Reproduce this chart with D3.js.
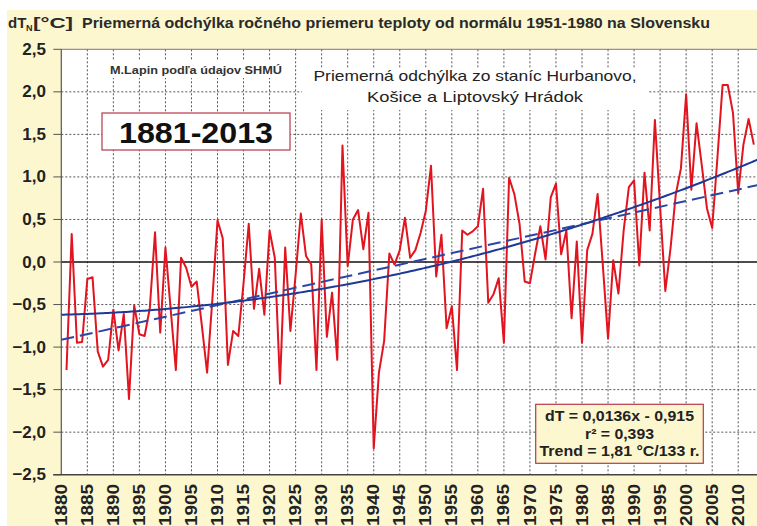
<!DOCTYPE html>
<html><head><meta charset="utf-8">
<script src="https://cdn.jsdelivr.net/npm/d3@7"></script>
<style>
body{margin:0;background:#fff}
svg text{font-family:"Liberation Sans",Arial,Helvetica,sans-serif}
</style>
</head><body>
<svg id="c" width="757" height="526"></svg>
<script>
// ---- data ----
const years = d3.range(1881, 2014);
const values = [
 -1.27, 0.33,-0.95,-0.94,-0.20,-0.18,-1.05,-1.23,-1.15,-0.56, // 1881-1890
 -1.04,-0.61,-1.61,-0.51,-0.85,-0.87,-0.54, 0.35,-0.83, 0.17, // 1891-1900
 -0.55,-1.27, 0.05,-0.07,-0.29,-0.23,-0.75,-1.30,-0.45, 0.49, // 1901-1910
  0.28,-1.21,-0.81,-0.87,-0.25, 0.45,-0.55,-0.08,-0.62, 0.37, // 1911-1920
  0.05,-1.43, 0.17,-0.81,-0.15, 0.57, 0.07,-0.03,-1.27, 0.50, // 1921-1930
 -0.88,-0.36,-1.15, 1.37,-0.05, 0.50, 0.61, 0.15, 0.58,-2.19, // 1931-1940
 -1.30,-0.93, 0.10,-0.03, 0.14, 0.52, 0.05, 0.14, 0.34, 0.60, // 1941-1950
  1.13,-0.17, 0.32,-0.78,-0.52,-1.27, 0.37, 0.32, 0.36, 0.42, // 1951-1960
  0.86,-0.48,-0.38,-0.19,-0.95, 0.99, 0.80, 0.45,-0.23,-0.25, // 1961-1970
  0.10, 0.42, 0.03, 0.76, 0.92, 0.09, 0.37,-0.66, 0.24,-0.95, // 1971-1980
  0.14, 0.33, 0.80,-0.04,-0.90, 0.02,-0.37, 0.37, 0.88, 0.96, // 1981-1990
 -0.04, 1.05, 0.37, 1.67, 0.65,-0.34, 0.16, 0.79, 1.10, 1.97, // 1991-2000
  0.85, 1.63, 1.14, 0.63, 0.40, 1.22, 2.08, 2.08, 1.75, 0.81, // 2001-2010
  1.38, 1.68, 1.38                                           // 2011-2013
];
const yTicks = [2.5, 2.0, 1.5, 1.0, 0.5, 0.0, -0.5, -1.0, -1.5, -2.0, -2.5];
const xTickYears = d3.range(1880, 2011, 5);
// linear trend as printed on the chart: dT = 0.0136 x - 0.915 (x = 1 for 1881)
const linSlope = 0.0136, linIntercept = -0.915;
// polynomial (2nd order) trend, t = year - 1880
const polyCoef = [-0.62, 0.00157, 0.0000902];
const trendYears = d3.range(1880, 2014.01, 0.5);

const titleMain = "Priemerná odchýlka ročného priemeru teploty od normálu 1951-1980 na Slovensku";
const authorText = "M.Lapin podľa údajov SHMÚ";
const periodText = "1881-2013";
const noteLines = ["Priemerná odchýlka zo staníc Hurbanovo,", "Košice a Liptovský Hrádok"];
const eqLines = ["dT = 0,0136x - 0,915", "r² = 0,393", "Trend = 1,81 °C/133 r."];

// ---- layout ----
const svg = d3.select("#c");
const L = 61.3, R = 61.3 + 134 * 5.207, T = 49.3, B = 474.7;
const x = d3.scaleLinear().domain([1880, 2014]).range([L, R]);
const y = d3.scaleLinear().domain([-2.5, 2.5]).range([B, T]);
const fmt = v => d3.format(".1f")(v).replace(".", ",");

svg.append("rect").attr("x", 7).attr("y", 10).attr("width", 750).attr("height", 516).attr("fill", "#fcf7cf");
svg.append("rect").attr("x", L).attr("y", T).attr("width", 757 - L).attr("height", B - T).attr("fill", "#fff");

// grid
const grid = svg.append("g");
grid.selectAll(".hg").data(yTicks.filter(v => v !== 0 && v !== -2.5 && v !== 2.5)).join("line")
  .attr("x1", L).attr("x2", 757).attr("y1", d => y(d)).attr("y2", d => y(d))
  .attr("stroke", "#555").attr("stroke-width", 1).attr("stroke-dasharray", "2,2");
grid.selectAll(".vg").data(xTickYears.filter(v => v > 1880)).join("line")
  .attr("x1", d => x(d)).attr("x2", d => x(d)).attr("y1", T).attr("y2", B)
  .attr("stroke", "#555").attr("stroke-width", 1).attr("stroke-dasharray", "2,2");
// top line
svg.append("line").attr("x1", L).attr("x2", 757).attr("y1", T).attr("y2", T).attr("stroke", "#777").attr("stroke-width", 1);
// y ticks
svg.selectAll(".yt").data(yTicks).join("line")
  .attr("x1", L - 8).attr("x2", L).attr("y1", d => y(d)).attr("y2", d => y(d))
  .attr("stroke", "#555").attr("stroke-width", 1);
// zero line
svg.append("line").attr("x1", L).attr("x2", 757).attr("y1", y(0)).attr("y2", y(0)).attr("stroke", "#111").attr("stroke-width", 1.6);
// axes
svg.append("line").attr("x1", L).attr("x2", L).attr("y1", T).attr("y2", B).attr("stroke", "#555").attr("stroke-width", 1.2);
svg.append("line").attr("x1", L - 8).attr("x2", 757).attr("y1", B).attr("y2", B).attr("stroke", "#444").attr("stroke-width", 1.5);

// y labels
svg.selectAll(".yl").data(yTicks).join("text")
  .attr("x", 46).attr("y", d => y(d) + 5.5).attr("text-anchor", "end")
  .attr("font-size", 17).attr("font-weight", "bold").attr("fill", "#222").text(fmt);
// x labels
svg.selectAll(".xl").data(xTickYears).join("text")
  .attr("transform", d => `translate(${x(d) + 5.6},484) rotate(-90)`)
  .attr("text-anchor", "end").attr("font-size", 16).attr("font-weight", "bold").attr("fill", "#222")
  .attr("textLength", 42).attr("lengthAdjust", "spacingAndGlyphs").text(d => d);

// title
const tg = svg.append("g").attr("fill", "#2a2a2a").attr("font-weight", "bold");
tg.append("text").attr("x", 8).attr("y", 28).attr("font-size", 15).text("dT");
tg.append("text").attr("x", 26).attr("y", 31).attr("font-size", 9).text("N");
tg.append("text").attr("x", 33).attr("y", 28).attr("font-size", 15).attr("textLength", 40).attr("lengthAdjust", "spacingAndGlyphs").text("[°C]");
tg.append("text").attr("x", 82).attr("y", 28).attr("font-size", 14.5).attr("textLength", 628).attr("lengthAdjust", "spacingAndGlyphs").text(titleMain);

// text boxes
svg.append("rect").attr("x", 105).attr("y", 60).attr("width", 183).attr("height", 18).attr("fill", "#fff");
svg.append("text").attr("x", 110).attr("y", 73.5).attr("font-size", 11.5).attr("font-weight", "bold").attr("fill", "#333")
  .attr("textLength", 172).attr("lengthAdjust", "spacingAndGlyphs").text(authorText);

svg.append("rect").attr("x", 102).attr("y", 113).attr("width", 188).attr("height", 37)
  .attr("fill", "#fff").attr("stroke", "#b8384a").attr("stroke-width", 1.2);
svg.append("text").attr("x", 196).attr("y", 143.3).attr("text-anchor", "middle").attr("font-size", 29)
  .attr("font-weight", "bold").attr("fill", "#111").attr("textLength", 154).attr("lengthAdjust", "spacingAndGlyphs").text(periodText);

svg.append("rect").attr("x", 302).attr("y", 68).attr("width", 346).attr("height", 42).attr("fill", "#fff");
svg.selectAll(".nl").data(noteLines).join("text")
  .attr("x", 475).attr("y", (d, i) => 81 + i * 20.5).attr("text-anchor", "middle")
  .attr("font-size", 15).attr("fill", "#222")
  .attr("textLength", (d, i) => i === 0 ? 323 : 216).attr("lengthAdjust", "spacingAndGlyphs").text(d => d);

// data line
const line = d3.line().x((d, i) => x(years[i])).y(d => y(d));
svg.append("path").datum(values).attr("d", line).attr("fill", "none")
  .attr("stroke", "#e2141f").attr("stroke-width", 2).attr("stroke-linejoin", "round");

// trends
const clipId = "pc";
svg.append("clipPath").attr("id", clipId).append("rect").attr("x", L).attr("y", T).attr("width", 757 - L).attr("height", B - T);
const lin = d3.line().x(d => x(d)).y(d => y(linSlope * (d - 1880) + linIntercept));
svg.append("path").datum([1880, 2014]).attr("d", lin).attr("clip-path", `url(#${clipId})`)
  .attr("fill", "none").attr("stroke", "#2b47a3").attr("stroke-width", 2).attr("stroke-dasharray", "13,6");
const poly = d3.line().x(d => x(d)).y(d => { const t = d - 1880; return y(polyCoef[0] + polyCoef[1] * t + polyCoef[2] * t * t); });
svg.append("path").datum(trendYears).attr("d", poly).attr("clip-path", `url(#${clipId})`)
  .attr("fill", "none").attr("stroke", "#1e3996").attr("stroke-width", 2);

// equation box
svg.append("rect").attr("x", 535.7).attr("y", 404.3).attr("width", 167.6).attr("height", 59)
  .attr("fill", "#fcf7cf").attr("stroke", "#b8384a").attr("stroke-width", 1.2);
svg.selectAll(".eq").data(eqLines).join("text")
  .attr("x", 619.5).attr("y", (d, i) => 421 + i * 17.6).attr("text-anchor", "middle")
  .attr("font-size", 15).attr("font-weight", "bold").attr("fill", "#222")
  .attr("textLength", (d, i) => [149, 69, 160][i]).attr("lengthAdjust", "spacingAndGlyphs").text(d => d);
</script>
</body></html>
